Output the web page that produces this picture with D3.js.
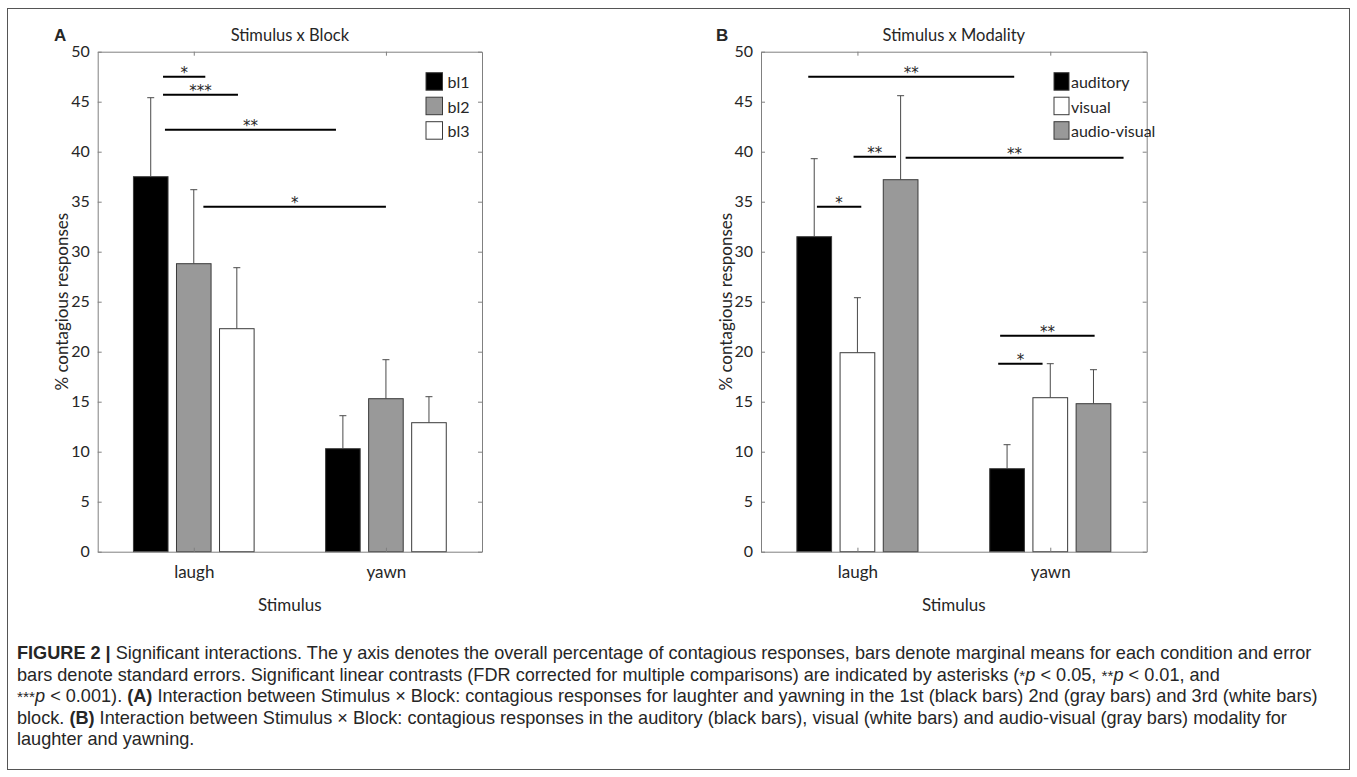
<!DOCTYPE html>
<html>
<head>
<meta charset="utf-8">
<script src="https://cdn.jsdelivr.net/npm/d3@7"></script>
<style>
  body { margin: 0; background: #fff; }
  svg text { fill: #262626; }
</style>
</head>
<body>
<svg id="fig" width="1357" height="777"></svg>
<script>
// ---- data ----
const stimuli = ["laugh", "yawn"];

// panel A: Stimulus x Block
const blockNames = ["bl1", "bl2", "bl3"];
const blockColors = ["#000000", "#999999", "#ffffff"];
const blockMeans = [[37.5, 10.3], [28.8, 15.3], [22.3, 12.9]];
const blockErr   = [[7.9, 3.3], [7.4, 3.9], [6.1, 2.6]];
// significance bars: [x from, x to, y, label] in data units
const sigA = [
  [0.84, 1.06, 47.5, "*"],
  [0.84, 1.23, 45.7, "***"],
  [0.85, 1.74, 42.2, "**"],
  [1.05, 2.00, 34.5, "*"]
];

// panel B: Stimulus x Modality
const modalityNames = ["auditory", "visual", "audio-visual"];
const modalityColors = ["#000000", "#ffffff", "#999999"];
const modalityMeans = [[31.5, 8.3], [19.9, 15.4], [37.2, 14.8]];
const modalityErr   = [[7.8, 2.4], [5.5, 3.4], [8.4, 3.4]];
const sigB = [
  [0.745, 1.813, 47.5, "**"],
  [0.98, 1.20, 39.5, "**"],
  [1.25, 2.38, 39.4, "**"],
  [0.79, 1.02, 34.5, "*"],
  [1.74, 2.23, 21.6, "**"],
  [1.73, 1.96, 18.8, "*"]
];

const yTicks = [0, 5, 10, 15, 20, 25, 30, 35, 40, 45, 50];

const svg = d3.select("#fig");
const font = "Lato, 'Open Sans', sans-serif";

// outer frame
svg.append("rect")
  .attr("x", 7.5).attr("y", 8.5).attr("width", 1342).attr("height", 761)
  .attr("fill", "none").attr("stroke", "#555").attr("stroke-width", 1);

function drawPanel(cfg) {
  const g = svg.append("g");
  const x = d3.scaleLinear().domain([0.5, 2.5]).range([cfg.left, cfg.right]);
  const y = d3.scaleLinear().domain([0, 50]).range([551.7, 51.7]);
  const step = 0.224, bw = 0.18;

  // axes (ticks pointing inward, MATLAB box)
  const axCol = "#808080";
  const left = g.append("g").attr("transform", `translate(${cfg.left},0)`)
    .call(d3.axisLeft(y).tickValues(yTicks).tickSizeInner(-4).tickSizeOuter(0).tickPadding(8));
  const right = g.append("g").attr("transform", `translate(${cfg.right},0)`)
    .call(d3.axisRight(y).tickValues(yTicks).tickSizeInner(-4).tickSizeOuter(0).tickFormat(""));
  const top = g.append("g").attr("transform", `translate(0,${y(50)})`)
    .call(d3.axisTop(x).tickValues([1, 2]).tickSizeInner(-4).tickSizeOuter(0).tickFormat(""));

  // bars
  cfg.means.forEach((series, i) => {
    const off = (i - 1) * step;
    g.selectAll(null).data(series).enter().append("rect")
      .attr("x", (d, j) => x(j + 1 + off - bw / 2))
      .attr("width", x(bw) - x(0))
      .attr("y", d => y(d))
      .attr("height", d => y(0) - y(d))
      .attr("fill", cfg.colors[i])
      .attr("stroke", "#3a3a3a").attr("stroke-width", 1);
    // upper error bars
    g.selectAll(null).data(series).enter().append("path")
      .attr("d", (d, j) => {
        const cx = x(j + 1 + off), y0 = y(d), y1 = y(d + cfg.err[i][j]);
        return `M${cx},${y0}V${y1}M${cx - 3.5},${y1}H${cx + 3.5}`;
      })
      .attr("fill", "none").attr("stroke", "#4a4a4a").attr("stroke-width", 1);
  });

  const bottom = g.append("g").attr("transform", `translate(0,${y(0)})`)
    .call(d3.axisBottom(x).tickValues([1, 2]).tickSizeInner(-4).tickSizeOuter(0).tickPadding(14)
      .tickFormat((d, i) => stimuli[i]));

  [left, right, top, bottom].forEach(a => {
    a.selectAll("path, line").attr("stroke", axCol);
    a.selectAll("text").attr("font-family", font).attr("font-size", 16).attr("fill", "#262626");
  });
  bottom.selectAll("text").attr("font-size", 17);

  // significance lines
  cfg.sig.forEach(s => {
    g.append("line")
      .attr("x1", x(s[0])).attr("x2", x(s[1]))
      .attr("y1", y(s[2])).attr("y2", y(s[2]))
      .attr("stroke", "#000").attr("stroke-width", 2);
    g.append("text")
      .attr("x", x((s[0] + s[1]) / 2)).attr("y", y(s[2]) + 1)
      .attr("text-anchor", "middle")
      .attr("font-family", "'DejaVu Sans', sans-serif").attr("font-size", 15)
      .text(s[3]);
  });

  // legend
  const lg = g.append("g");
  cfg.names.forEach((n, i) => {
    lg.append("rect")
      .attr("x", cfg.legX).attr("y", 72.7 + i * 24.5)
      .attr("width", cfg.swW).attr("height", 17.5)
      .attr("fill", cfg.colors[i]).attr("stroke", "#3a3a3a");
    lg.append("text")
      .attr("x", cfg.legX + cfg.swW + cfg.gap).attr("y", 81.5 + i * 24.5)
      .attr("dominant-baseline", "central")
      .attr("font-family", font).attr("font-size", 16)
      .text(n);
  });

  // titles
  const cx = (cfg.left + cfg.right) / 2;
  g.append("text").attr("x", cx).attr("y", 41).attr("text-anchor", "middle")
    .attr("font-family", font).attr("font-size", 16.5).text(cfg.title);
  g.append("text").attr("x", cfg.letterX).attr("y", 41)
    .attr("font-family", "'Liberation Sans', Arial, sans-serif").attr("font-weight", "bold")
    .attr("font-size", 17).attr("fill", "#000").text(cfg.letter);
  g.append("text").attr("x", cx).attr("y", 611).attr("text-anchor", "middle")
    .attr("font-family", font).attr("font-size", 17).text("Stimulus");
  g.append("text")
    .attr("transform", `translate(${cfg.left - 36},${(y(0) + y(50)) / 2}) rotate(-90)`)
    .attr("text-anchor", "middle").attr("dominant-baseline", "central")
    .attr("font-family", font).attr("font-size", 17).text("% contagious responses");
}

drawPanel({
  left: 97.7, right: 482, title: "Stimulus x Block", letter: "A", letterX: 54,
  names: blockNames, colors: blockColors, means: blockMeans, err: blockErr, sig: sigA,
  legX: 426, swW: 16.5, gap: 5
});
drawPanel({
  left: 761, right: 1146.7, title: "Stimulus x Modality", letter: "B", letterX: 716,
  names: modalityNames, colors: modalityColors, means: modalityMeans, err: modalityErr, sig: sigB,
  legX: 1054, swW: 15, gap: 2
});

// caption
const capLines = [
  [["b", "FIGURE 2 | "], ["", "Significant interactions. The y axis denotes the overall percentage of contagious responses, bars denote marginal means for each condition and error"]],
  [["", "bars denote standard errors. Significant linear contrasts (FDR corrected for multiple comparisons) are indicated by asterisks ("], ["s", "*"], ["i", "p"], ["", " < 0.05, "], ["s", "**"], ["i", "p"], ["", " < 0.01, and"]],
  [["s", "***"], ["i", "p"], ["", " < 0.001). "], ["b", "(A)"], ["", " Interaction between Stimulus × Block: contagious responses for laughter and yawning in the 1st (black bars) 2nd (gray bars) and 3rd (white bars)"]],
  [["", "block. "], ["b", "(B)"], ["", " Interaction between Stimulus × Block: contagious responses in the auditory (black bars), visual (white bars) and audio-visual (gray bars) modality for"]],
  [["", "laughter and yawning."]]
];
const cap = svg.append("g")
  .attr("font-family", "'Liberation Sans', Arial, sans-serif")
  .attr("font-size", 15);
const capTexts = capLines.map((parts, li) => {
  const t = cap.append("text").attr("x", 17).attr("y", 659 + li * 21.6).attr("fill", "#2b2b2b");
  parts.forEach(p => {
    const ts = t.append("tspan").text(p[1]);
    if (p[0] === "b") ts.attr("font-weight", "bold");
    if (p[0] === "i") ts.attr("font-style", "italic");
    if (p[0] === "s") ts.attr("font-size", "85%");
  });
  return t;
});
// fit caption size so the first line spans the same width as in the figure
const w0 = capTexts[0].node().getComputedTextLength();
cap.attr("font-size", 15 * 1296 / w0);
</script>
</body>
</html>
